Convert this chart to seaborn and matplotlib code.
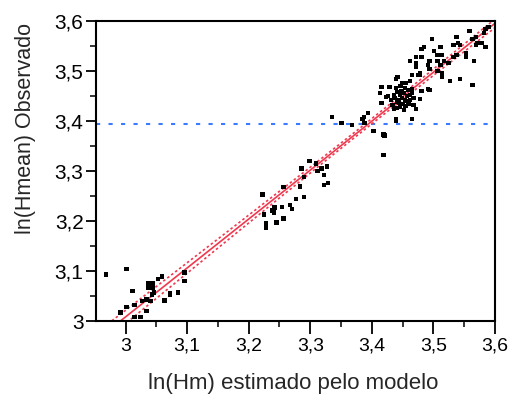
import matplotlib
matplotlib.use("Agg")
import matplotlib.pyplot as plt
from matplotlib.ticker import MultipleLocator, FuncFormatter
import numpy as np
import pandas as pd
import seaborn as sns

ESTIMATED = [
    # low group
    2.968, 3.002, 3.011, 3.053, 3.059, 3.002, 2.992, 3.015, 3.027, 3.034,
    3.041, 3.043, 3.046, 3.034, 3.015, 3.024, 3.063, 3.072, 3.072, 3.085,
    3.096, 3.096,
    # middle group
    3.222, 3.225, 3.228, 3.228, 3.239, 3.241, 3.242, 3.245, 3.254, 3.257,
    3.257, 3.267, 3.270, 3.277, 3.283, 3.290, 3.290, 3.286, 3.299, 3.309,
    3.312, 3.318, 3.322, 3.327, 3.322, 3.329,
    # around 3.4
    3.403, 3.419, 3.421, 3.418, 3.420, 3.335, 3.351, 3.368, 3.385, 3.387,
    3.394, 3.388, 3.439, 3.439, 3.465,
    # upper scatter
    3.416, 3.413, 3.416, 3.423, 3.429, 3.436, 3.439, 3.442, 3.449, 3.452,
    3.455, 3.462, 3.465, 3.465, 3.472, 3.475, 3.478, 3.462, 3.472, 3.481,
    3.472, 3.481, 3.485, 3.498, 3.501, 3.494, 3.491, 3.494, 3.511, 3.507,
    3.511, 3.514, 3.507, 3.517, 3.524, 3.511, 3.507, 3.514, 3.514, 3.527,
    3.543, 3.563, 3.491, 3.494, 3.481, 3.478, 3.468, 3.472, 3.478, 3.537,
    3.533, 3.540, 3.543, 3.537, 3.533, 3.553, 3.553, 3.559, 3.569, 3.572,
    3.569, 3.566, 3.585, 3.582, 3.589, 3.585, 3.579, 3.563,
    # dense cluster
    3.446, 3.449, 3.454, 3.442, 3.450, 3.457, 3.437, 3.462, 3.446, 3.452,
    3.441, 3.459, 3.465, 3.434, 3.455, 3.444, 3.451, 3.460, 3.439, 3.447,
    3.468, 3.431, 3.426, 3.454, 3.436, 3.444, 3.458, 3.448, 3.440, 3.462,
]
OBSERVED = [
    3.093, 3.104, 3.060, 3.084, 3.089, 3.028, 3.017, 3.032, 3.040, 3.043,
    3.040, 3.053, 3.057, 3.020, 3.008, 3.008, 3.041, 3.055, 3.053, 3.057,
    3.097, 3.080,
    3.253, 3.213, 3.195, 3.187, 3.221, 3.217, 3.227, 3.197, 3.228, 3.268,
    3.205, 3.232, 3.224, 3.244, 3.269, 3.248, 3.288, 3.305, 3.320, 3.315,
    3.300, 3.305, 3.292, 3.309, 3.272, 3.276,
    3.380, 3.373, 3.371, 3.332, 3.332, 3.408, 3.396, 3.392, 3.404, 3.408,
    3.416, 3.396, 3.404, 3.400, 3.404,
    3.468, 3.456, 3.436, 3.448, 3.468, 3.424, 3.484, 3.488, 3.476, 3.476,
    3.476, 3.480, 3.492, 3.464, 3.508, 3.492, 3.496, 3.520, 3.528, 3.528,
    3.516, 3.544, 3.548, 3.564, 3.540, 3.520, 3.512, 3.504, 3.548, 3.532,
    3.532, 3.532, 3.520, 3.520, 3.516, 3.512, 3.500, 3.496, 3.488, 3.480,
    3.484, 3.472, 3.464, 3.462, 3.460, 3.444, 3.432, 3.424, 3.492, 3.568,
    3.552, 3.556, 3.552, 3.532, 3.528, 3.536, 3.528, 3.580, 3.568, 3.556,
    3.552, 3.520, 3.548, 3.576, 3.588, 3.584, 3.556, 3.564,
    3.452, 3.446, 3.442, 3.438, 3.434, 3.450, 3.446, 3.442, 3.428, 3.422,
    3.458, 3.462, 3.456, 3.432, 3.430, 3.442, 3.456, 3.434, 3.466, 3.470,
    3.446, 3.442, 3.450, 3.466, 3.452, 3.436, 3.440, 3.460, 3.426, 3.452,
]
# one heavier marker (overlapping observations)
BIG_POINT_X = [3.040]
BIG_POINT_Y = [3.071]

REFERENCE_LEVEL = 3.394

X_LIMITS = (2.952, 3.6)
Y_LIMITS = (3.0, 3.6)
FIT_COLOR = "#f0384e"
REF_COLOR = "#3a7bff"

sns.set_style("ticks")
plt.rcParams["font.family"] = ["Liberation Sans", "DejaVu Sans"]

points = pd.DataFrame({"estimado": ESTIMATED, "observado": OBSERVED})
x = points["estimado"].to_numpy()
y = points["observado"].to_numpy()

# least squares fit with 95% confidence band of the mean
slope, intercept = np.polyfit(x, y, 1)
n = len(x)
resid = y - (intercept + slope * x)
s = np.sqrt(np.sum(resid ** 2) / (n - 2))
sxx = np.sum((x - x.mean()) ** 2)
grid = np.linspace(X_LIMITS[0], X_LIMITS[1], 200)
fit = intercept + slope * grid
half = 1.97 * s * np.sqrt(1.0 / n + (grid - x.mean()) ** 2 / sxx)
band = pd.DataFrame({"x": grid, "fit": fit, "lo": fit - half, "hi": fit + half})

fig = plt.figure(figsize=(5.15, 3.97), dpi=100)
ax = fig.add_axes([96 / 515, 1 - 321 / 397, 399 / 515, 300 / 397])

ax.axhline(REFERENCE_LEVEL, color=REF_COLOR, linewidth=1.5,
           linestyle=(0, (2, 4)), zorder=1)
sns.lineplot(data=band, x="x", y="fit", ax=ax, color=FIT_COLOR,
             linewidth=1.2, zorder=2)
for col in ("lo", "hi"):
    sns.lineplot(data=band, x="x", y=col, ax=ax, color=FIT_COLOR,
                 linewidth=1.2, linestyle=(0, (1.5, 1.5)), zorder=2)
sns.scatterplot(data=points, x="estimado", y="observado", ax=ax,
                marker="s", s=11, color="black", edgecolor="none",
                linewidth=0, zorder=3)
sns.scatterplot(x=BIG_POINT_X, y=BIG_POINT_Y, ax=ax, marker="s", s=40,
                color="black", edgecolor="none", linewidth=0, zorder=3)

ax.set_xlim(X_LIMITS)
ax.set_ylim(Y_LIMITS)

comma = FuncFormatter(lambda v, _: f"{v:.1f}".rstrip("0").rstrip(".").replace(".", ","))
for axis in (ax.xaxis, ax.yaxis):
    axis.set_major_locator(MultipleLocator(0.1))
    axis.set_minor_locator(MultipleLocator(0.05))
    axis.set_major_formatter(comma)

ax.tick_params(axis="both", which="major", width=1.3,
               color="black", labelcolor="black", direction="out")
ax.tick_params(axis="x", which="major", length=9, pad=3, labelsize=14)
ax.tick_params(axis="y", which="major", length=7, pad=2, labelsize=15)
ax.tick_params(axis="x", which="minor", length=4.5, width=1.3)
ax.tick_params(axis="y", which="minor", length=4.5, width=1.3)

for spine in ax.spines.values():
    spine.set_visible(True)
    spine.set_linewidth(1.5)
    spine.set_color("black")

ax.set_xlabel("ln(Hm) estimado pelo modelo", fontsize=16)
ax.set_ylabel("ln(Hmean) Observado", fontsize=15.5)
ax.xaxis.set_label_coords(0.495, -0.175)
ax.yaxis.set_label_coords(-0.15, 0.64)

fig.savefig("out.png", dpi=100)
